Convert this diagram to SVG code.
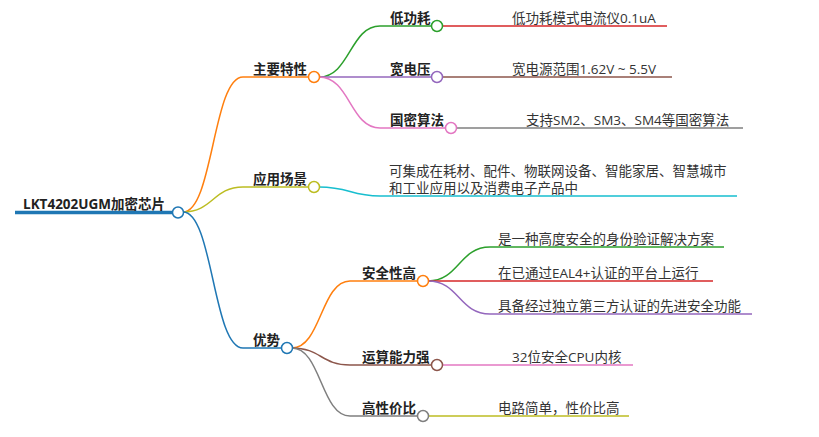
<svg xmlns="http://www.w3.org/2000/svg" width="819" height="437" viewBox="0 0 819 437">
<style>
text{font-family:"Open Sans","Noto Sans CJK SC",sans-serif;font-size:13.5px;fill:#333}
.b{font-weight:bold;fill:#222}
.c path{fill:none;stroke-width:1.5}
circle{fill:#fff;stroke-width:1.5}
</style>
<rect width="819" height="437" fill="#fff"/>
<g id="connectors" class="c">
<path d="M15,212.5 H173" stroke="#1f77b4" stroke-width="3.5" style="stroke-width:3.5"/>
<path d="M183,212 C213,212 213,77 243,77 H309" stroke="#ff7f0e"/>
<path d="M183,212 C213,212 213,187 243,187 H309" stroke="#bcbd22"/>
<path d="M183,212 C213,212 213,348 243,348 H282" stroke="#1f77b4"/>
<path d="M319,77 C350,77 350,26 380,26 H432" stroke="#2ca02c"/>
<path d="M319,77 H432" stroke="#9467bd"/>
<path d="M319,77 C350,77 350,128 380,128 H446" stroke="#e377c2"/>
<path d="M319,187 C350,187 350,196 380,196 H737" stroke="#17becf"/>
<path d="M442,26 H667" stroke="#d62728"/>
<path d="M442,77 H672" stroke="#8c564b"/>
<path d="M456,128 H743" stroke="#7f7f7f"/>
<path d="M292,348 C321,348 321,281 350,281 H418" stroke="#ff7f0e"/>
<path d="M292,348 C321,348 321,365 350,365 H432" stroke="#8c564b"/>
<path d="M292,348 C321,348 321,416 350,416 H418" stroke="#7f7f7f"/>
<path d="M428,281 C459,281 459,247 490,247 H724" stroke="#2ca02c"/>
<path d="M428,281 H713" stroke="#d62728"/>
<path d="M428,281 C459,281 459,314 490,314 H752" stroke="#9467bd"/>
<path d="M442,365 H633" stroke="#e377c2"/>
<path d="M428,416 H629" stroke="#bcbd22"/>
</g>
<g id="root"><text class="b" x="23" y="209">LKT4202UGM加密芯片</text><circle cx="178" cy="212.5" r="5.5" stroke="#1f77b4"/></g>
<g id="n-features"><text class="b" x="253" y="74">主要特性</text><circle cx="314" cy="77" r="5.5" stroke="#ff7f0e"/></g>
<g id="n-apps"><text class="b" x="253" y="184">应用场景</text><circle cx="314" cy="187" r="5.5" stroke="#bcbd22"/></g>
<g id="n-adv"><text class="b" x="253" y="345">优势</text><circle cx="287" cy="348" r="5.5" stroke="#1f77b4"/></g>
<g id="n-lowpower"><text class="b" x="390" y="23">低功耗</text><circle cx="437" cy="26" r="5.5" stroke="#2ca02c"/></g>
<g id="n-voltage"><text class="b" x="390" y="74">宽电压</text><circle cx="437" cy="77" r="5.5" stroke="#9467bd"/></g>
<g id="n-crypto"><text class="b" x="390" y="125">国密算法</text><circle cx="451" cy="128" r="5.5" stroke="#e377c2"/></g>
<g id="n-secure"><text class="b" x="362" y="278">安全性高</text><circle cx="423" cy="281" r="5.5" stroke="#ff7f0e"/></g>
<g id="n-compute"><text class="b" x="362" y="362">运算能力强</text><circle cx="437" cy="365" r="5.5" stroke="#8c564b"/></g>
<g id="n-cost"><text class="b" x="362" y="413">高性价比</text><circle cx="423" cy="416" r="5.5" stroke="#7f7f7f"/></g>
<g id="l-lowpower"><text x="512" y="23">低功耗模式电流仪0.1uA</text></g>
<g id="l-voltage"><text x="512" y="74">宽电源范围1.62V ~ 5.5V</text></g>
<g id="l-crypto"><text x="526" y="125">支持SM2、SM3、SM4等国密算法</text></g>
<g id="l-apps"><text x="389" y="176">可集成在耗材、配件、物联网设备、智能家居、智慧城市</text><text x="389" y="193">和工业应用以及消费电子产品中</text></g>
<g id="l-sec1"><text x="498" y="244">是一种高度安全的身份验证解决方案</text></g>
<g id="l-sec2"><text x="498" y="278">在已通过EAL4+认证的平台上运行</text></g>
<g id="l-sec3"><text x="498" y="311">具备经过独立第三方认证的先进安全功能</text></g>
<g id="l-compute"><text x="512" y="362">32位安全CPU内核</text></g>
<g id="l-cost"><text x="498" y="413">电路简单，性价比高</text></g>
</svg>
